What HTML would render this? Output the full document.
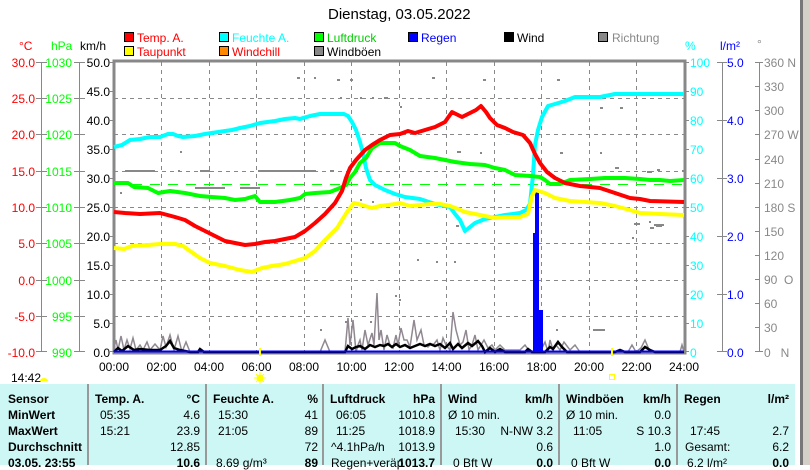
<!DOCTYPE html>
<html><head><meta charset="utf-8"><style>
body{margin:0;width:810px;height:465px;overflow:hidden;background:#fff;font-family:"Liberation Sans",sans-serif;font-size:12px;position:relative}
.t{position:absolute;white-space:nowrap;line-height:14px}
.r{text-align:right}
.b{font-weight:bold}
#tab{position:absolute;left:0;top:384px;width:795px;height:81px;background:#cdf7f5}
.sep{position:absolute;top:384px;width:2px;height:81px;background:#999}
</style></head><body>
<div class="t" style="left:328px;top:6px;font-size:15px;line-height:18px">Dienstag, 03.05.2022</div>
<svg width="810" height="465" style="position:absolute;left:0;top:0" font-family="Liberation Sans" font-size="12">
<!-- legend -->
<g stroke="#000" stroke-width="1">
<rect x="124.5" y="32.5" width="9" height="9" fill="#f00"/><rect x="124.5" y="46.5" width="9" height="9" fill="#ff0"/>
<rect x="219.5" y="32.5" width="9" height="9" fill="#0ff"/><rect x="219.5" y="46.5" width="9" height="9" fill="#f80"/>
<rect x="314.5" y="32.5" width="9" height="9" fill="#0f0"/><rect x="314.5" y="46.5" width="9" height="9" fill="#888"/>
<rect x="408.5" y="32.5" width="9" height="9" fill="#00f"/>
<rect x="504.5" y="32.5" width="9" height="9" fill="#000"/>
<rect x="598.5" y="32.5" width="9" height="9" fill="#888"/>
</g>
<g font-size="12">
<text x="137" y="42" fill="#f00">Temp. A.</text><text x="137" y="56" fill="#f00">Taupunkt</text>
<text x="232" y="42" fill="#0ff">Feuchte A.</text><text x="232" y="56" fill="#f00">Windchill</text>
<text x="327" y="42" fill="#0c0">Luftdruck</text><text x="327" y="56" fill="#000">Windböen</text>
<text x="421" y="42" fill="#00f">Regen</text>
<text x="517" y="42" fill="#000">Wind</text>
<text x="612" y="42" fill="#888">Richtung</text>
<text x="19" y="50" fill="#f00">°C</text><text x="51" y="50" fill="#0f0">hPa</text><text x="80" y="50" fill="#000">km/h</text>
<text x="685" y="50" fill="#0ff">%</text><text x="720" y="50" fill="#00f">l/m²</text><text x="757" y="48" fill="#888">°</text>
</g>
<!-- grid -->
<g stroke="#888" stroke-dasharray="4,4" stroke-width="1">
<path d="M161.5 62V352M209.5 62V352M256.5 62V352M304.5 62V352M351.5 62V352M399.5 62V352M446.5 62V352M494.5 62V352M541.5 62V352M589.5 62V352M636.5 62V352"/>
<path d="M114 98.5H684M114 134.5H684M114 171.5H684M114 207.5H684M114 243.5H684M114 280.5H684M114 316.5H684"/>
</g>
<rect x="114" y="61" width="571" height="292" fill="none" stroke="#888" stroke-width="3"/>
<!-- left axes -->
<g stroke="#888" fill="none">
<path d="M41.5 62V352M79.5 62V352M722.5 62V352M759.5 62V352"/>
<path d="M36 62.5h11M36 98.5h11M36 134.5h11M36 171.5h11M36 207.5h11M36 243.5h11M36 280.5h11M36 316.5h11M36 351.5h11"/>
<path d="M74 62.5h11M74 98.5h11M74 134.5h11M74 171.5h11M74 207.5h11M74 243.5h11M74 280.5h11M74 316.5h11M74 351.5h11"/>
<path d="M110 62.5h4M110 91.5h4M110 120.5h4M110 149.5h4M110 178.5h4M110 207.5h4M110 236.5h4M110 265.5h4M110 294.5h4M110 323.5h4M110 351.5h4"/>
<path d="M684 62.5h5M684 91.5h5M684 120.5h5M684 149.5h5M684 178.5h5M684 207.5h5M684 236.5h5M684 265.5h5M684 294.5h5M684 323.5h5M684 351.5h5"/>
<path d="M717 62.5h10M717 120.5h10M717 178.5h10M717 236.5h10M717 294.5h10M717 351.5h10"/>
<path d="M755 62.5h8M755 86.5h4M755 110.5h4M755 134.5h4M755 159.5h4M755 183.5h4M755 207.5h4M755 231.5h4M755 255.5h4M755 279.5h4M755 303.5h4M755 327.5h4M755 351.5h8"/>
</g>
<g text-anchor="end" fill="#f00">
<text x="35" y="67">30.0</text><text x="35" y="103">25.0</text><text x="35" y="139">20.0</text><text x="35" y="176">15.0</text><text x="35" y="212">10.0</text><text x="35" y="248">5.0</text><text x="35" y="285">0.0</text><text x="35" y="321">-5.0</text><text x="35" y="357">-10.0</text>
</g>
<g text-anchor="end" fill="#0f0">
<text x="72" y="67">1030</text><text x="72" y="103">1025</text><text x="72" y="139">1020</text><text x="72" y="176">1015</text><text x="72" y="212">1010</text><text x="72" y="248">1005</text><text x="72" y="285">1000</text><text x="72" y="321">995</text><text x="72" y="357">990</text>
</g>
<g text-anchor="end" fill="#000">
<text x="110" y="67">50.0</text><text x="110" y="96">45.0</text><text x="110" y="125">40.0</text><text x="110" y="154">35.0</text><text x="110" y="183">30.0</text><text x="110" y="212">25.0</text><text x="110" y="241">20.0</text><text x="110" y="270">15.0</text><text x="110" y="299">10.0</text><text x="110" y="328">5.0</text><text x="110" y="357">0.0</text>
</g>
<g fill="#0ff">
<text x="690" y="67">100</text><text x="690" y="96">90</text><text x="690" y="125">80</text><text x="690" y="154">70</text><text x="690" y="183">60</text><text x="690" y="212">50</text><text x="690" y="241">40</text><text x="690" y="270">30</text><text x="690" y="299">20</text><text x="690" y="328">10</text><text x="690" y="357">0</text>
</g>
<g fill="#00f">
<text x="727" y="67">5.0</text><text x="727" y="125">4.0</text><text x="727" y="183">3.0</text><text x="727" y="241">2.0</text><text x="727" y="299">1.0</text><text x="727" y="357">0.0</text>
</g>
<g fill="#888">
<text x="764" y="67">360 N</text><text x="764" y="91">330</text><text x="764" y="115">300</text><text x="764" y="139">270 W</text><text x="764" y="164">240</text><text x="764" y="188">210</text><text x="764" y="212">180 S</text><text x="764" y="236">150</text><text x="764" y="260">120</text><text x="764" y="284">90&#160;&#160;O</text><text x="764" y="308">60</text><text x="764" y="332">30</text><text x="764" y="357">0&#160;&#160;&#160;N</text>
</g>
<!-- direction dots -->
<g stroke="#888" stroke-width="2">
<path d="M297 78h3M314 78h2M337 80h3M350 80h3M384 98h4M340 98h2M360 98h2M372 98h2M432 78h3M483 80h3M557 80h3M292 171h2M178 171h2M180 152h2M125 171h30M200 171h10M240 188h20M258 171h58M195 188h30M330 171h4M400 107h2M480 153h2M457 152h4M560 153h3M600 153h2M615 168h4M647 172h5M657 170h3M682 171h3M612 193h2M649 222h2M632 238h2M654 225h10M656 226h6M655 225h4M456 226h3M600 178h2M417 260h2M436 262h2M454 262h2M395 296h2M399 300h2M593 330h12M556 330h2M360 200h2M372 202h2M650 228h4M345 322h2M370 322h2M120 193h2M320 330h2M600 108h3M620 108h3M634 224h6"/>
</g>
<!-- green dashed -->
<path d="M114 184.5H684" stroke="#0f0" stroke-dasharray="10,8" stroke-width="1"/>
<!-- gusts -->
<polyline fill="none" stroke="#908890" stroke-width="1.5" points="114,348 116,340 118,350 121,336 124,350 127,340 130,349 133,338 136,350 140,345 143,350 147,342 150,350 155,344 160,350 163,336 166,347 170,335 174,350 178,336 182,352 186,342 190,352 194,352 200,352 280,352 320,352 325,340 330,352 345,352 348,318 350,345 353,320 356,352 358,345 360,340 362,350 365,330 368,345 372,333 374,345 377,293 379,340 381,330 384,350 387,335 390,345 393,348 396,335 398,345 401,328 404,340 407,340 410,347 414,320 417,340 421,330 424,345 428,347 430,345 434,344 437,340 440,350 443,338 446,345 450,350 453,312 456,330 460,345 463,342 466,330 469,350 472,345 475,335 478,350 481,345 484,340 488,348 492,345 495,350 500,345 505,350 520,350 525,345 530,352 540,352 545,342 548,352 550,340 553,350 556,345 560,350 564,342 570,350 575,345 580,352 600,352 628,352 632,345 636,352 641,348 645,340 650,352 680,352 682,345 684,352"/>
<!-- wind -->
<polyline fill="none" stroke="#000" stroke-width="2.5" points="114,352 118,348 122,351 128,346 134,350 140,349 150,350 160,350 166,346 170,341 174,348 180,350 190,352 198,352 200,349 204,352 345,352 348,346 352,349 356,347 360,346 365,349 370,345 375,347 380,345 384,346 388,344 392,347 396,344 400,347 405,345 410,348 415,346 420,344 425,346 430,344 435,346 440,344 445,348 450,343 453,349 458,344 462,348 468,343 472,346 478,341 482,346 485,352 490,348 495,352 500,349 505,352 525,352 528,349 532,352 545,352 550,347 553,349 558,342 562,347 567,352 575,352 600,352 615,352 620,350 625,352 640,352 645,347 650,350 655,352 684,352"/>
<!-- rain -->
<path d="M533 352V233H535V192H539V310H543V352Z" fill="#00f"/>
<path d="M114 351.5H684" stroke="#00f" stroke-width="2"/>
<!-- series -->
<g fill="none" stroke-width="4" stroke-linejoin="round">
<polyline stroke="#0ff" points="114,147 122,145 130,140 140,139 150,137 160,137 168,134 173,134 178,136 183,137 195,136 205,134 225,131 232,130 240,128 250,126 260,123 275,121 285,119 295,118 300,119 303,118 310,116 320,114 335,114 344,114 348,116 352,122 356,130 360,142 363,153 366,168 370,180 375,185 385,190 395,194 405,197 420,199 435,204 450,207 455,214 460,220 465,231 470,227 475,223 485,219 495,217 505,215 520,213 526,210 530,204 533,175 535,145 538,130 542,117 548,106 555,104 565,101 575,97 600,97 615,94 650,94 684,94"/>
<polyline stroke="#0f0" points="114,183 128,183 134,187 148,188 158,193 170,191 185,193 200,196 212,197 225,198 235,200 245,199 255,196 260,202 275,202 290,200 300,198 305,194 315,193 330,192 340,188 346,185 350,178 355,172 360,163 366,158 372,148 380,143 395,143 400,146 410,150 420,156 435,158 445,160 455,162 470,164 485,165 495,168 505,170 515,175 530,176 540,177 545,180 550,184 560,184 570,180 590,179 605,178 625,178 640,179 650,180 660,180 670,181 684,180"/>
<polyline stroke="#f00" points="114,212 125,213 140,214 160,213 175,217 185,220 195,226 205,231 215,236 225,241 235,243 245,245 255,244 265,242 275,241 285,239 295,237 305,231 315,223 325,214 335,203 342,191 346,178 350,168 356,160 365,150 372,145 380,140 390,135 400,134 408,131 415,133 425,130 435,127 445,122 452,112 458,115 462,117 468,114 476,110 481,106 486,112 490,118 497,125 505,128 513,132 523,135 530,143 535,154 540,163 547,172 555,178 565,183 580,186 600,188 615,193 630,198 640,199 650,201 684,202"/>
<polyline stroke="#ff0" points="114,248 124,249 132,246 148,245 160,244 175,244 183,246 190,251 200,258 210,263 225,266 240,270 252,272 262,268 272,266 285,264 295,261 305,258 315,251 325,240 337,228 347,212 354,203 362,205 372,208 380,206 388,205 395,204 400,203 410,206 420,205 430,204 440,204 450,206 458,209 465,212 475,214 485,216 495,218 505,217 520,217 528,214 532,196 535,190 545,193 555,198 570,201 585,202 600,203 615,206 630,210 640,213 660,214 684,215"/>
</g>
<!-- x labels -->
<g text-anchor="middle" fill="#000">
<text x="114" y="371">00:00</text><text x="161.5" y="371">02:00</text><text x="209" y="371">04:00</text><text x="256.5" y="371">06:00</text><text x="304" y="371">08:00</text><text x="351.5" y="371">10:00</text><text x="399" y="371">12:00</text><text x="446.5" y="371">14:00</text><text x="494" y="371">16:00</text><text x="541.5" y="371">18:00</text><text x="589" y="371">20:00</text><text x="636.5" y="371">22:00</text><text x="684" y="371">24:00</text>
</g>
<path d="M260 348V356M612 348V356" stroke="#ff0" stroke-width="2"/>
<text x="11" y="382" fill="#000">14:42</text>
<path d="M40 381a4 3 0 0 1 8 0z" fill="#ff0"/>
<circle cx="260" cy="378" r="3.5" fill="#ff0"/>
<path d="M260 372v12M254 378h12M256 374l8 8M264 374l-8 8" stroke="#ff0" stroke-width="1"/>
<rect x="609.5" y="374.5" width="5" height="5" fill="none" stroke="#ff0"/>
<!-- right window border -->
<rect x="800" y="0" width="3" height="465" fill="#777"/>
<rect x="803" y="0" width="7" height="465" fill="#d4d0c8"/>
</svg>
<div id="tab"></div>
<div class="sep" style="left:87px"></div><div class="sep" style="left:205px"></div><div class="sep" style="left:322px"></div><div class="sep" style="left:440px"></div><div class="sep" style="left:558px"></div><div class="sep" style="left:676px"></div>
<!-- table text -->
<div class="t b" style="left:8px;top:392px">Sensor</div>
<div class="t b" style="left:8px;top:408px">MinWert</div>
<div class="t b" style="left:8px;top:424px">MaxWert</div>
<div class="t b" style="left:8px;top:440px">Durchschnitt</div>
<div class="t b" style="left:8px;top:456px">03.05. 23:55</div>

<div class="t b" style="left:95px;top:392px">Temp. A.</div><div class="t b r" style="left:150px;width:50px;top:392px">°C</div>
<div class="t" style="left:100px;top:408px">05:35</div><div class="t r" style="left:150px;width:50px;top:408px">4.6</div>
<div class="t" style="left:100px;top:424px">15:21</div><div class="t r" style="left:150px;width:50px;top:424px">23.9</div>
<div class="t r" style="left:150px;width:50px;top:440px">12.85</div>
<div class="t b r" style="left:150px;width:50px;top:456px">10.6</div>

<div class="t b" style="left:213px;top:392px">Feuchte A.</div><div class="t b r" style="left:268px;width:50px;top:392px">%</div>
<div class="t" style="left:218px;top:408px">15:30</div><div class="t r" style="left:268px;width:50px;top:408px">41</div>
<div class="t" style="left:218px;top:424px">21:05</div><div class="t r" style="left:268px;width:50px;top:424px">89</div>
<div class="t r" style="left:268px;width:50px;top:440px">72</div>
<div class="t" style="left:216px;top:456px">8.69 g/m³</div><div class="t b r" style="left:268px;width:50px;top:456px">89</div>

<div class="t b" style="left:330px;top:392px">Luftdruck</div><div class="t b r" style="left:385px;width:50px;top:392px">hPa</div>
<div class="t" style="left:336px;top:408px">06:05</div><div class="t r" style="left:385px;width:50px;top:408px">1010.8</div>
<div class="t" style="left:336px;top:424px">11:25</div><div class="t r" style="left:385px;width:50px;top:424px">1018.9</div>
<div class="t" style="left:331px;top:440px">^4.1hPa/h</div><div class="t r" style="left:385px;width:50px;top:440px">1013.9</div>
<div class="t" style="left:331px;top:456px">Regen+veräp</div><div class="t b r" style="left:385px;width:50px;top:456px">1013.7</div>

<div class="t b" style="left:448px;top:392px">Wind</div><div class="t b r" style="left:503px;width:50px;top:392px">km/h</div>
<div class="t" style="left:448px;top:408px">Ø 10 min.</div><div class="t r" style="left:503px;width:50px;top:408px">0.2</div>
<div class="t" style="left:455px;top:424px">15:30</div><div class="t r" style="left:493px;width:60px;top:424px">N-NW 3.2</div>
<div class="t r" style="left:503px;width:50px;top:440px">0.6</div>
<div class="t" style="left:453px;top:456px">0 Bft W</div><div class="t b r" style="left:503px;width:50px;top:456px">0.0</div>

<div class="t b" style="left:566px;top:392px">Windböen</div><div class="t b r" style="left:621px;width:50px;top:392px">km/h</div>
<div class="t" style="left:566px;top:408px">Ø 10 min.</div><div class="t r" style="left:621px;width:50px;top:408px">0.0</div>
<div class="t" style="left:573px;top:424px">11:05</div><div class="t r" style="left:621px;width:50px;top:424px">S 10.3</div>
<div class="t r" style="left:621px;width:50px;top:440px">1.0</div>
<div class="t" style="left:571px;top:456px">0 Bft W</div><div class="t b r" style="left:621px;width:50px;top:456px">0.0</div>

<div class="t b" style="left:684px;top:392px">Regen</div><div class="t b r" style="left:739px;width:50px;top:392px">l/m²</div>
<div class="t" style="left:690px;top:424px">17:45</div><div class="t r" style="left:739px;width:50px;top:424px">2.7</div>
<div class="t" style="left:685px;top:440px">Gesamt:</div><div class="t r" style="left:739px;width:50px;top:440px">6.2</div>
<div class="t" style="left:687px;top:456px">6.2 l/m²</div><div class="t b r" style="left:739px;width:50px;top:456px">0.0</div>
</body></html>
